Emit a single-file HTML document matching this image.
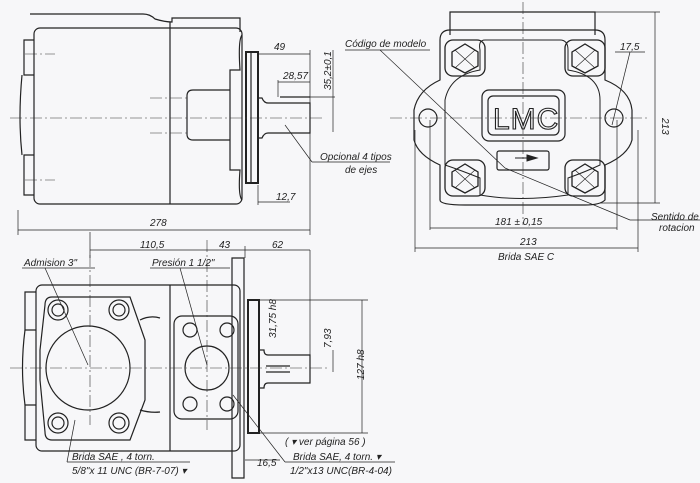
<!DOCTYPE html>
<html><head><meta charset="utf-8"><style>
html,body{margin:0;padding:0;background:#f7f7f9;}
svg{display:block}
text{font-family:"Liberation Sans",sans-serif;font-style:italic;fill:#222;font-size:10px}
</style></head><body>
<svg width="700" height="483" viewBox="0 0 700 483" xmlns="http://www.w3.org/2000/svg">
<g fill="none" stroke="#222" stroke-width="1.2">
<path d="M30 14 H143 Q150 14 155 19 Q165 22 172 22 V18 H240 V32"/>
<rect x="34" y="28" width="208" height="176" rx="6"/>
<line x1="170" y1="22" x2="170" y2="204"/>
<path d="M34 40 H24 V75 H34 M34 155 H24 V195 H34" />
<path d="M22 75 Q18 118 22 155"/>
<path d="M242 35 Q238 40 240 70 H230 V170 H240 Q238 195 242 200"/>
<path d="M230 90 H193 Q187 90 187 96 V134 Q187 140 193 140 H230"/>
<rect x="246" y="52" width="12" height="131" stroke-width="2"/>
<line x1="251" y1="52" x2="251" y2="183"/>
<path d="M258 98 H262 Q264 103 268 103 H310 V133 H268 Q264 133 262 138 H258"/>
<line x1="280" y1="97" x2="310" y2="97"/>
<rect x="36" y="285" width="204" height="166" rx="6"/>
<path d="M36 292 H25 V330 H36 M36 405 H25 V440 H36"/>
<path d="M25 330 Q20 368 25 405"/>
<line x1="170" y1="285" x2="170" y2="451"/>
<path d="M52 297 H130 L145 340 V400 L130 440 H52 Q45 440 45 432 L40 380 V350 L45 305 Q45 297 52 297Z"/>
<circle cx="88" cy="368" r="42"/>
<circle cx="58" cy="310" r="10"/><circle cx="58" cy="310" r="6"/>
<circle cx="119" cy="310" r="10"/><circle cx="119" cy="310" r="6"/>
<circle cx="58" cy="423" r="10"/><circle cx="58" cy="423" r="6"/>
<circle cx="119" cy="423" r="10"/><circle cx="119" cy="423" r="6"/>
<path d="M140 320 Q150 315 160 318 M140 410 Q150 413 160 412"/>
<rect x="174" y="316" width="64" height="103" rx="8"/>
<circle cx="207" cy="368" r="22"/>
<circle cx="190" cy="330" r="7"/><circle cx="227" cy="330" r="7"/>
<circle cx="190" cy="404" r="7"/><circle cx="227" cy="404" r="7"/>
<path d="M232 258 H244 V478 H232 Z"/>
<rect x="248" y="300" width="11" height="133" stroke-width="2"/>
<path d="M259 350 H264 Q264 355 268 355 H310 V383 H268 Q264 383 264 388 H259"/>
<line x1="266" y1="366" x2="290" y2="366"/><line x1="266" y1="372" x2="290" y2="372"/>
<path d="M450 35 V12 H595 V35"/>
<path d="M450 30 H595 Q605 30 605 40 V80 Q630 90 632 110 V140 Q628 155 605 165 V200 Q600 205 585 205 H465 Q440 205 440 200 V165 Q418 155 414 140 V110 Q418 90 440 80 V40 Q440 30 450 30Z"/>
<path d="M485 40 H560 Q568 40 568 50 V70 Q600 75 600 100 V165 Q585 172 568 178 V195 Q520 202 480 195 V178 Q460 170 445 165 V100 Q450 75 480 70 V50 Q478 40 485 40Z" stroke-width="1"/>
<g stroke-width="1.3">
<polygon points="452,52 465,44 478,52 478,66 465,73 452,66"/>
<polygon points="572,52 585,44 598,52 598,66 585,73 572,66"/>
<polygon points="452,172 465,164 478,172 478,186 465,193 452,186"/>
<polygon points="572,172 585,164 598,172 598,186 585,193 572,186"/>
<rect x="445" y="40" width="40" height="36" rx="8"/>
<rect x="565" y="40" width="40" height="36" rx="8"/>
<rect x="445" y="160" width="40" height="36" rx="8"/>
<rect x="565" y="160" width="40" height="36" rx="8"/>
</g>
<g stroke-width="0.6">
<path d="M455 50 L475 68 M475 50 L455 68 M575 50 L595 68 M595 50 L575 68 M455 170 L475 188 M475 170 L455 188 M575 170 L595 188 M595 170 L575 188"/>
</g>
<rect x="482" y="90" width="83" height="51" rx="7"/>
<rect x="488" y="96" width="71" height="39" rx="5"/>
<rect x="497" y="151" width="52" height="19" rx="2"/>
<circle cx="428" cy="118" r="9"/><circle cx="614" cy="118" r="9"/>
</g>
<text x="493" y="129" style="font-size:30px;font-style:normal;fill:none;stroke:#222;stroke-width:1.1;letter-spacing:1px">LMC</text>
<path d="M515 158 L535 158 M527 155 L537 158 L527 161Z" fill="#222" stroke="#222"/>
<g stroke="#333" stroke-width="0.6" stroke-dasharray="12,3,2,3" fill="none">
<line x1="10" y1="118" x2="322" y2="118"/>
<line x1="25" y1="54" x2="55" y2="54"/><line x1="25" y1="180" x2="55" y2="180"/>
<line x1="150" y1="98" x2="190" y2="98"/><line x1="150" y1="133" x2="190" y2="133"/>
<line x1="10" y1="368" x2="330" y2="368"/>
<line x1="90" y1="255" x2="90" y2="425"/>
<line x1="207" y1="240" x2="207" y2="430"/>
<line x1="390" y1="118" x2="650" y2="118"/>
<line x1="523" y1="2" x2="523" y2="225"/>
</g>
<g stroke="#222" stroke-width="0.7" fill="none">
<line x1="258" y1="54" x2="310" y2="54"/><line x1="310" y1="50" x2="310" y2="235"/>
<line x1="278" y1="82" x2="310" y2="82"/><line x1="278" y1="80" x2="278" y2="97"/>
<line x1="333" y1="50" x2="333" y2="132"/><line x1="310" y1="97" x2="335" y2="97"/>
<line x1="258" y1="202" x2="290" y2="202"/><line x1="258" y1="185" x2="258" y2="205"/>
<line x1="18" y1="230" x2="310" y2="230"/><line x1="18" y1="210" x2="18" y2="235"/>
<line x1="90" y1="250" x2="310" y2="250"/><line x1="90" y1="232" x2="90" y2="258"/>
<line x1="245" y1="246" x2="245" y2="258"/>
<line x1="310" y1="250" x2="310" y2="383"/>
<line x1="260" y1="300" x2="368" y2="300"/><line x1="260" y1="433" x2="368" y2="433"/>
<line x1="362" y1="300" x2="362" y2="433"/>
<line x1="333" y1="350" x2="333" y2="372"/>
<line x1="245" y1="460" x2="280" y2="460"/>
<line x1="430" y1="120" x2="430" y2="230"/><line x1="617" y1="120" x2="617" y2="230"/>
<line x1="430" y1="228" x2="617" y2="228"/>
<line x1="415" y1="130" x2="415" y2="252"/><line x1="638" y1="130" x2="638" y2="252"/>
<line x1="415" y1="248" x2="638" y2="248"/>
<line x1="595" y1="12" x2="660" y2="12"/><line x1="600" y1="203" x2="660" y2="203"/>
<line x1="655" y1="12" x2="655" y2="203"/>
<line x1="285" y1="125" x2="312" y2="162"/><line x1="312" y1="162" x2="390" y2="162"/>
<line x1="345" y1="50" x2="430" y2="50"/><line x1="380" y1="50" x2="505" y2="168"/>
<line x1="505" y1="168" x2="630" y2="220"/><line x1="630" y1="220" x2="700" y2="220"/>
<line x1="630" y1="52" x2="612" y2="125"/><line x1="615" y1="52" x2="645" y2="52"/>
<line x1="22" y1="268" x2="95" y2="268"/><line x1="45" y1="268" x2="88" y2="365"/>
<line x1="150" y1="268" x2="230" y2="268"/><line x1="180" y1="268" x2="207" y2="365"/>
<line x1="75" y1="420" x2="67" y2="462"/>
<line x1="67" y1="462" x2="190" y2="462"/>
<line x1="233" y1="395" x2="285" y2="462"/><line x1="285" y1="462" x2="395" y2="462"/>
</g>
<g>
<text x="274" y="50">49</text>
<text x="283" y="79">28,57</text>
<text x="276" y="200">12,7</text>
<text x="150" y="226">278</text>
<text x="140" y="248">110,5</text>
<text x="219" y="248">43</text>
<text x="272" y="248">62</text>
<text transform="translate(331,90) rotate(-90)" font-size="9">35,2±0,1</text>
<text x="320" y="160">Opcional 4 tipos</text>
<text x="345" y="173">de ejes</text>
<text x="345" y="47">Código de modelo</text>
<text x="620" y="50">17,5</text>
<text transform="translate(662,118) rotate(90)">213</text>
<text x="651" y="220">Sentido de</text>
<text x="659" y="231">rotacion</text>
<text x="495" y="225">181 ± 0,15</text>
<text x="520" y="245">213</text>
<text x="498" y="260">Brida  SAE C</text>
<text x="24" y="266">Admision  3"</text>
<text x="152" y="266">Presión 1 1/2"</text>
<text transform="translate(276,338) rotate(-90)" font-size="9">31,75 h8</text>
<text transform="translate(331,348) rotate(-90)" font-size="9">7,93</text>
<text transform="translate(364,380) rotate(-90)">127 h8</text>
<text x="285" y="445">( ▾ ver página 56 )</text>
<text x="72" y="460">Brida  SAE , 4 torn.</text>
<text x="72" y="474">5/8"x 11 UNC  (BR-7-07) ▾</text>
<text x="293" y="460">Brida  SAE, 4 torn. ▾</text>
<text x="290" y="474">1/2"x13 UNC(BR-4-04)</text>
<text x="257" y="466">16,5</text>
</g>
</svg>
</body></html>
